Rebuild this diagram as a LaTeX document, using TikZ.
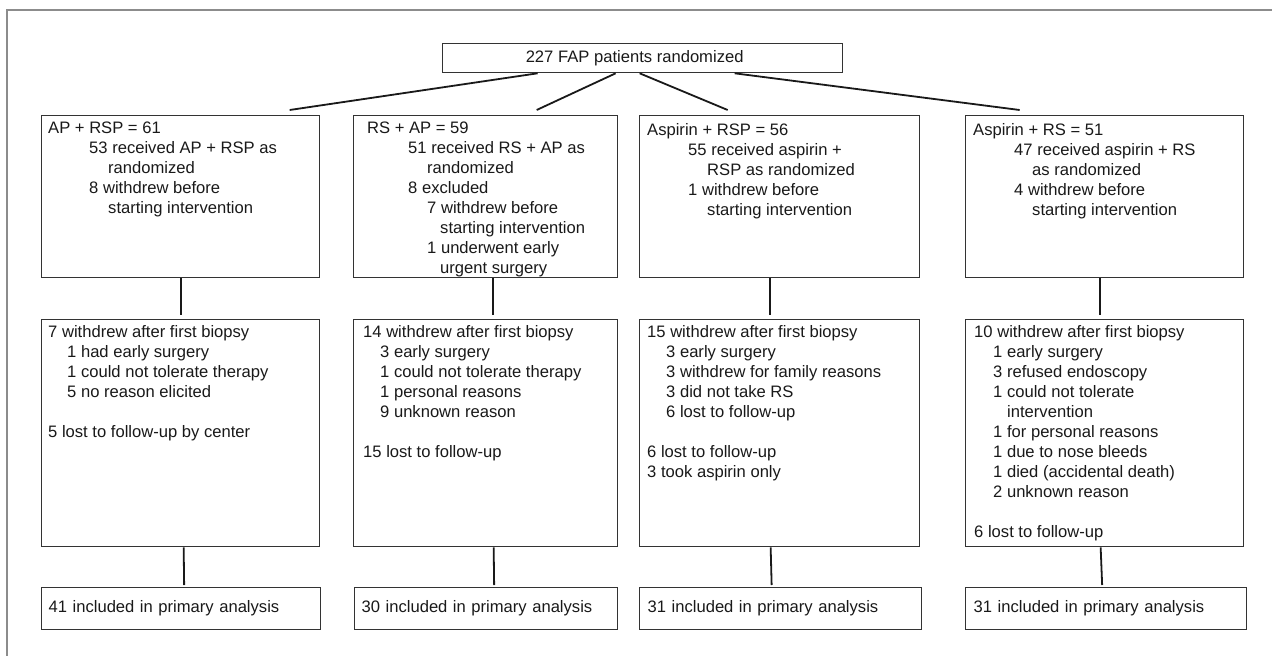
\documentclass[tikz,border=0pt]{standalone}
\usepackage{fontspec}
\setmainfont{Liberation Sans}
\usetikzlibrary{positioning}

\newcommand{\ind}[1]{\hspace*{#1pt}}
\newcommand{\topstrut}{\rule{0pt}{14pt}}

\begin{document}
\begin{tikzpicture}[x=1pt, y=-1pt,
	font=\fontsize{16.6}{20}\selectfont, color=black!90,
	box/.style={draw=black!80, line width=1.3pt, anchor=north west, inner sep=0pt},
	txt/.style={anchor=north west, align=left, inner sep=0pt},
	link/.style={draw=black!90, line width=1.8pt}]
	\useasboundingbox (0,0) rectangle (1272,656);
	\draw[color=gray!90, line width=2.5pt] (7,656) -- (7,10) -- (1272,10);
	% randomized
	\node[box, minimum width=400pt, minimum height=29pt] (top) at (442,43) {227 FAP patients randomized\kern16pt};
	% arms
	\node[box, minimum width=278pt, minimum height=162pt] (a1) at (41,115) {};
	\node[box, minimum width=264pt, minimum height=162pt] (a2) at (353,115) {};
	\node[box, minimum width=280pt, minimum height=162pt] (a3) at (639,115) {};
	\node[box, minimum width=278pt, minimum height=162pt] (a4) at (965,115) {};
	\node[txt] (ta1) at ([xshift=7pt, yshift=-4pt]a1.north west) {\topstrut AP + RSP = 61\\
		\ind{41}53 received AP + RSP as\\ \ind{60}randomized\\
		\ind{41}8 withdrew before\\ \ind{60}starting intervention};
	\node[txt] (ta2) at ([xshift=14pt, yshift=-4pt]a2.north west) {\topstrut RS + AP = 59\\
		\ind{41}51 received RS + AP as\\ \ind{60}randomized\\
		\ind{41}8 excluded\\
		\ind{60}7 withdrew before\\ \ind{73}starting intervention\\
		\ind{60}1 underwent early\\ \ind{73}urgent surgery};
	\node[txt] (ta3) at ([xshift=8pt, yshift=-6pt]a3.north west) {\topstrut Aspirin + RSP = 56\\
		\ind{41}55 received aspirin +\\ \ind{60}RSP as randomized\\
		\ind{41}1 withdrew before\\ \ind{60}starting intervention};
	\node[txt] (ta4) at ([xshift=8pt, yshift=-6pt]a4.north west) {\topstrut Aspirin + RS = 51\\
		\ind{41}47 received aspirin + RS\\ \ind{59}as randomized\\
		\ind{41}4 withdrew before\\ \ind{59}starting intervention};
	% withdrawals
	\node[box, minimum width=278pt, minimum height=227pt] (b1) at (41,319) {};
	\node[box, minimum width=264pt, minimum height=227pt] (b2) at (353,319) {};
	\node[box, minimum width=280pt, minimum height=227pt] (b3) at (639,319) {};
	\node[box, minimum width=278pt, minimum height=227pt] (b4) at (965,319) {};
	\node[txt] (tb1) at ([xshift=7pt, yshift=-4pt]b1.north west) {\topstrut 7 withdrew after first biopsy\\
		\ind{19}1 had early surgery\\ \ind{19}1 could not tolerate therapy\\
		\ind{19}5 no reason elicited\\[20pt]
		5 lost to follow-up by center};
	\node[txt] (tb2) at ([xshift=10pt, yshift=-4pt]b2.north west) {\topstrut 14 withdrew after first biopsy\\
		\ind{17}3 early surgery\\ \ind{17}1 could not tolerate therapy\\
		\ind{17}1 personal reasons\\ \ind{17}9 unknown reason\\[20pt]
		15 lost to follow-up};
	\node[txt] (tb3) at ([xshift=8pt, yshift=-4pt]b3.north west) {\topstrut 15 withdrew after first biopsy\\
		\ind{19}3 early surgery\\ \ind{19}3 withdrew for family reasons\\
		\ind{19}3 did not take RS\\ \ind{19}6 lost to follow-up\\[20pt]
		6 lost to follow-up\\ 3 took aspirin only};
	\node[txt] (tb4) at ([xshift=9pt, yshift=-4pt]b4.north west) {\topstrut 10 withdrew after first biopsy\\
		\ind{19}1 early surgery\\ \ind{19}3 refused endoscopy\\
		\ind{19}1 could not tolerate\\ \ind{33}intervention\\
		\ind{19}1 for personal reasons\\ \ind{19}1 due to nose bleeds\\
		\ind{19}1 died (accidental death)\\ \ind{19}2 unknown reason\\[20pt]
		6 lost to follow-up};
	% analysis
	\node[box, minimum width=279pt, minimum height=42pt, text width=265pt, inner xsep=7pt, align=left] (c1) at (41,587) {41 included in primary analysis};
	\node[box, minimum width=263pt, minimum height=42pt, text width=249pt, inner xsep=7pt, align=left] (c2) at (354,587) {30 included in primary analysis};
	\node[box, minimum width=280pt, minimum height=42pt, text width=266pt, inner xsep=8pt, align=left] (c3) at (639,587) {31 included in primary analysis};
	\node[box, minimum width=279pt, minimum height=42pt, text width=265pt, inner xsep=8pt, align=left] (c4) at (965,587) {31 included in primary analysis};
	% links
	\draw[link] ([xshift=-105pt]top.south) -- ([xshift=109pt, yshift=5pt]a1.north);
	\draw[link] ([xshift=-27pt]top.south) -- ([xshift=51pt, yshift=5pt]a2.north);
	\draw[link] ([xshift=-3pt]top.south) -- ([xshift=-52pt, yshift=5pt]a3.north);
	\draw[link] ([xshift=92pt]top.south) -- ([xshift=-85pt, yshift=5pt]a4.north);
	\draw[link] (a1.south) -- ([yshift=4pt]b1.north);
	\draw[link] ([xshift=7pt]a2.south) -- ([xshift=7pt, yshift=4pt]b2.north);
	\draw[link] ([xshift=-10pt]a3.south) -- ([xshift=-10pt, yshift=4pt]b3.north);
	\draw[link] ([xshift=-5pt]a4.south) -- ([xshift=-5pt, yshift=4pt]b4.north);
	\draw[link] ([xshift=3pt]b1.south) -- ([xshift=3pt, yshift=2pt]c1.north);
	\draw[link] ([xshift=8pt]b2.south) -- ([xshift=8pt, yshift=2pt]c2.north);
	\draw[link] ([xshift=-9pt]b3.south) -- ([xshift=-9pt, yshift=2pt]c3.north);
	\draw[link] ([xshift=-4pt]b4.south) -- ([xshift=-4pt, yshift=2pt]c4.north);
\end{tikzpicture}
\end{document}
